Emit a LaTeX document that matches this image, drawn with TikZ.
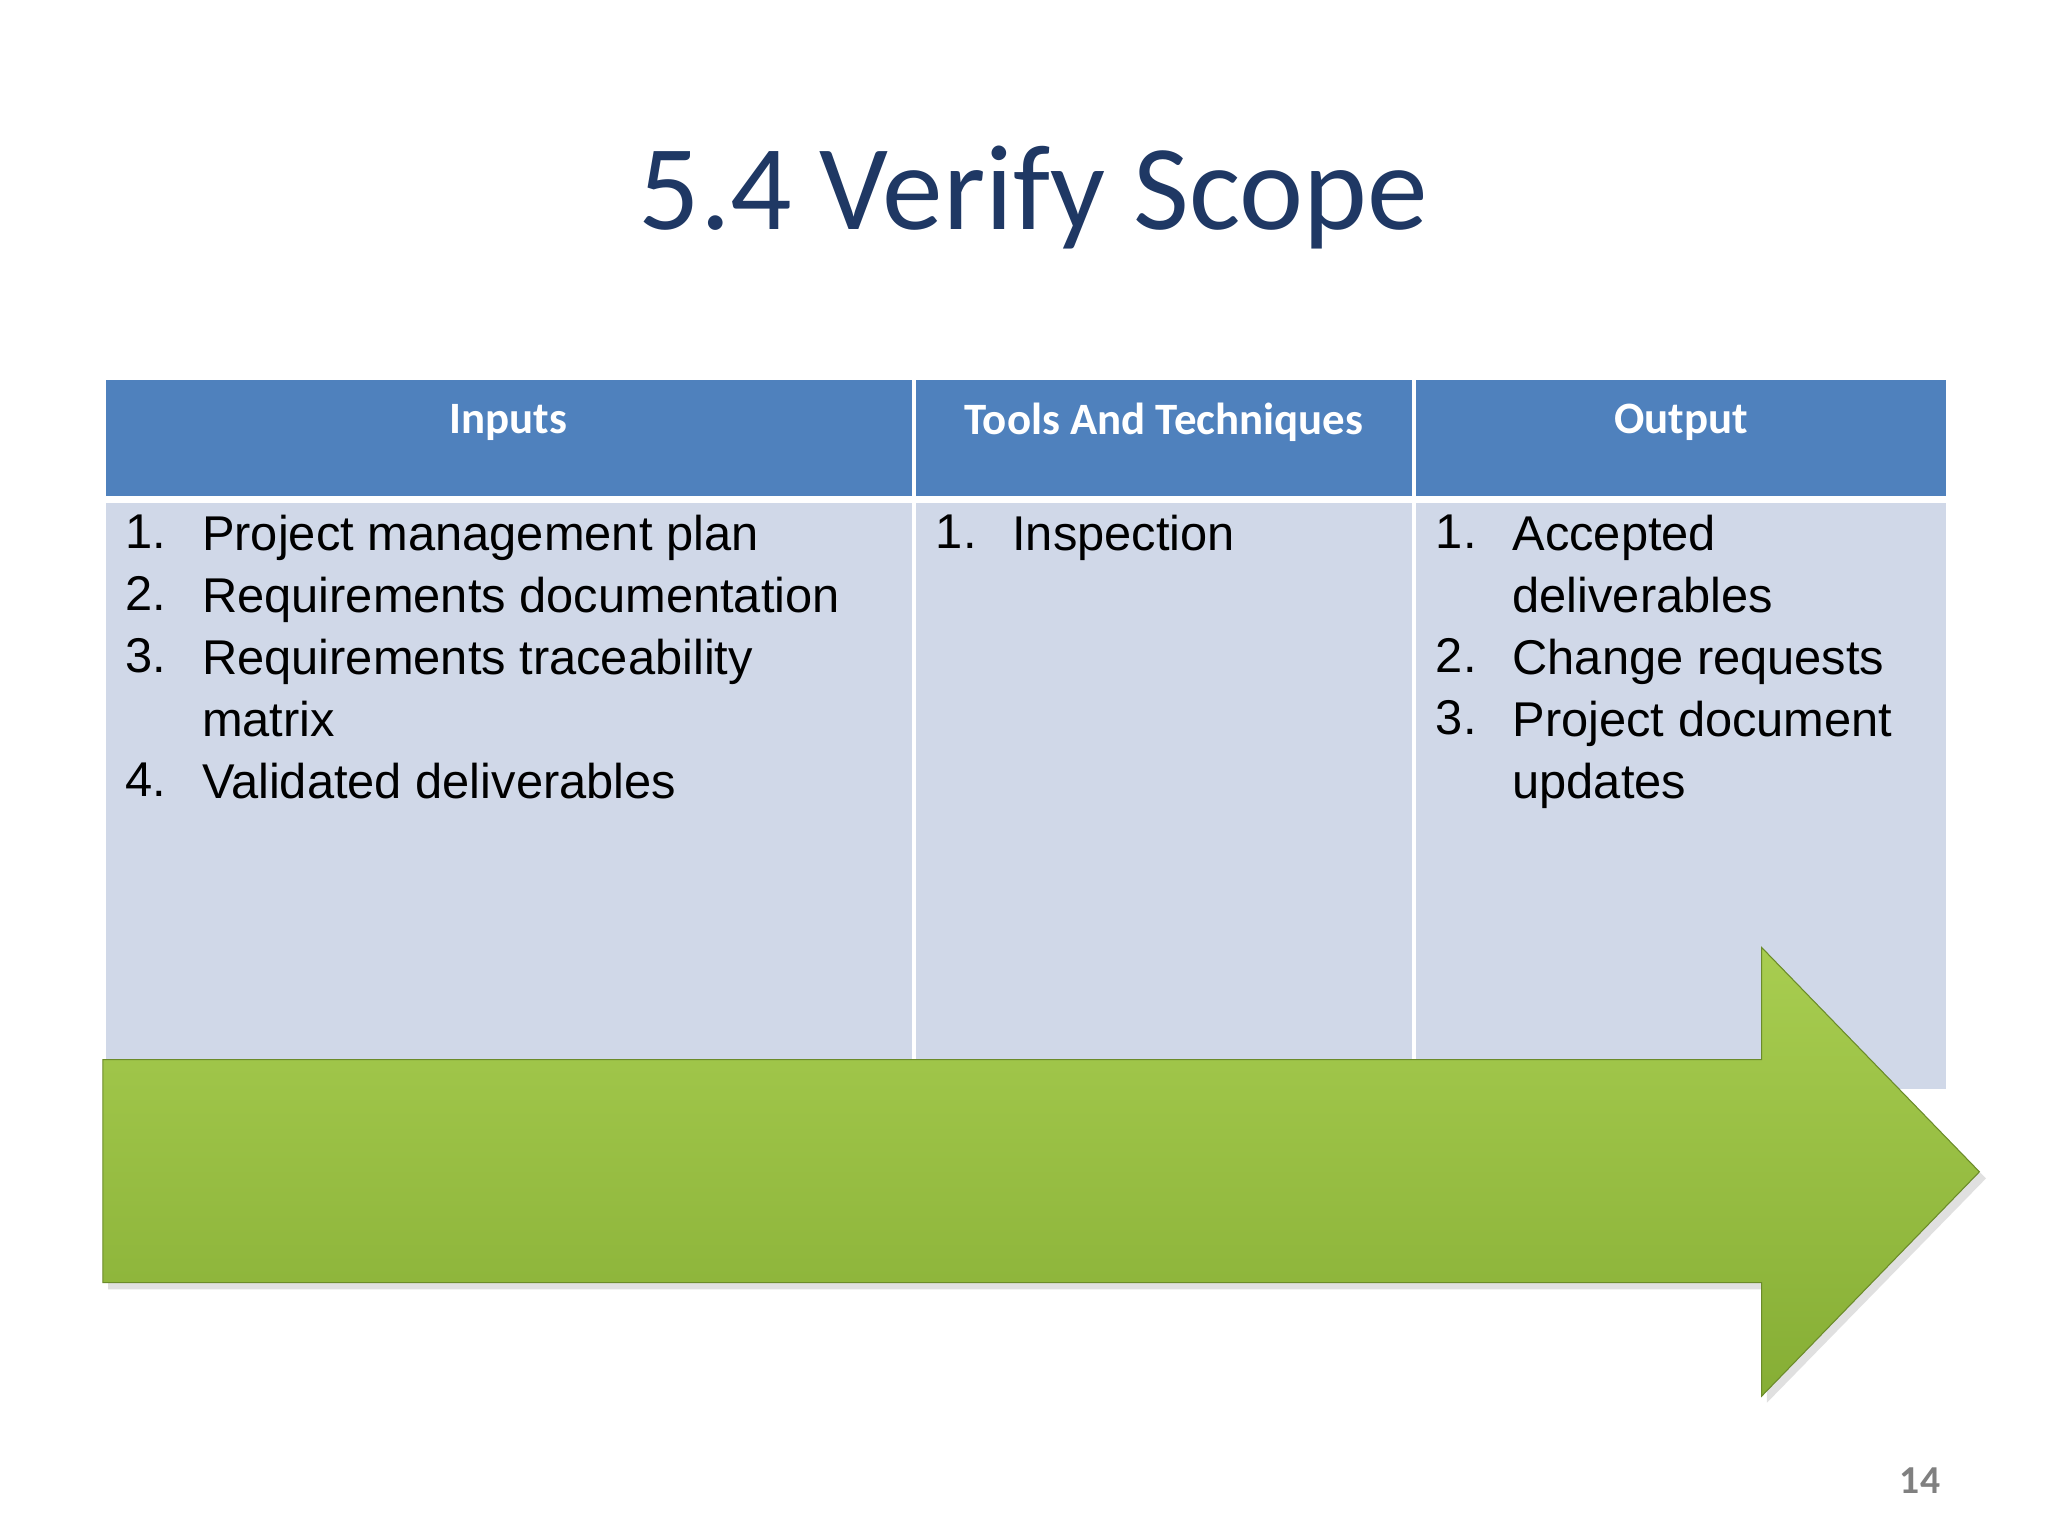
\documentclass[tikz,border=0pt]{standalone}
\usepackage{fontspec}
\setmainfont{Liberation Sans}
\newfontfamily\calib{Carlito}
\begin{document}
\begin{tikzpicture}[x=1pt,y=-1pt,
  hdr/.style={fill=hblue,draw=none},
  bdy/.style={fill=bblue,draw=none},
  htext/.style={font=\calib\bfseries\fontsize{34}{40}\selectfont,text=white},
  item/.style={font=\fontsize{37}{47}\selectfont,anchor=north west,align=left,inner sep=0pt}]
\definecolor{hblue}{HTML}{4F81BD}
\definecolor{bblue}{HTML}{D0D8E8}
\definecolor{tblue}{HTML}{1F3864}
\definecolor{gtop}{HTML}{A8CD50}
\definecolor{gbot}{HTML}{86AE35}
\useasboundingbox (0,0) rectangle (1552,1164);
\fill[white] (0,0) rectangle (1552,1164);
\node[font=\calib\fontsize{92}{100}\selectfont,text=tblue] (title) at (783,150) {5.4 Verify Scope};
% header
\fill[hblue] (80,288) rectangle (691,376);
\fill[hblue] (694,288) rectangle (1070,376);
\fill[hblue] (1073,288) rectangle (1475,376);
\fill[bblue] (80,381) rectangle (691,805);
\fill[bblue] (694,381) rectangle (1070,805);
\fill[bblue] (1073,381) rectangle (1475,825);
\node[htext] (h1) at (385,320) {Inputs};
\node[htext] (h2) at (882,320) {Tools And Techniques};
\node[htext] (h3) at (1274,320) {Output};
% items
\node[item] (n1) at (95,390) {1.\\2.\\3.\\\\4.};
\node[item] (t1) at (153,390) {Project management plan\\Requirements documentation\\Requirements traceability\\matrix\\Validated deliverables};
\node[item] (n2) at (709,390) {1.};
\node[item] (t2) at (767,390) {Inspection};
\node[item] (n3) at (1088,390) {1.\\\\2.\\3.};
\node[item] (t3) at (1146,390) {Accepted\\deliverables\\Change requests\\Project document\\updates};
% arrow
\fill[gray!40,opacity=0.6] (82,808) -- (1339,808) -- (1339,723) -- (1505,893) -- (1339,1063) -- (1339,977) -- (82,977) -- cycle;
\shade[top color=gtop,bottom color=gbot,draw=gbot!80!black,line width=0.8pt]
  (78,803) -- (1335,803) -- (1335,718) -- (1500,888) -- (1335,1058) -- (1335,972) -- (78,972) -- cycle;
\node[font=\calib\bfseries\fontsize{30}{34}\selectfont,text=gray] (pg) at (1455,1122) {14};
\end{tikzpicture}
\end{document}
